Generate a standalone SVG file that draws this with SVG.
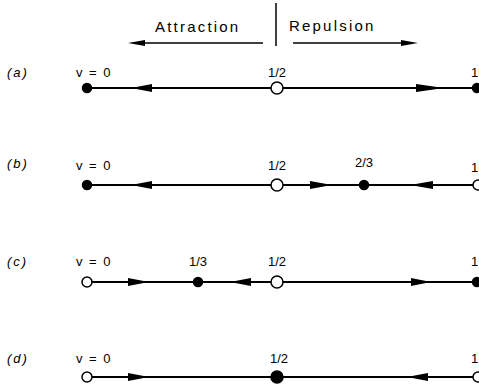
<svg xmlns="http://www.w3.org/2000/svg" width="479" height="384" viewBox="0 0 479 384">
<style>
text{font-family:"Liberation Sans","DejaVu Sans",sans-serif;font-size:13px;fill:#000}
.lab{font-style:italic;letter-spacing:2px}
.v0{letter-spacing:1.5px}
.hd{font-size:15px;letter-spacing:2.2px}
.ln{stroke:#000;stroke-width:2;fill:none}
.thin{stroke:#000;stroke-width:1.5;fill:none}
.fd{fill:#000;stroke:#000;stroke-width:1.5}
.op{fill:#fff;stroke:#000;stroke-width:1.5}
.ah{fill:#000}
</style>
<g id="header">
<line class="thin" x1="276" y1="3" x2="276" y2="46"/>
<text class="hd" x="155" y="32">Attraction</text>
<text class="hd" x="289" y="31">Repulsion</text>
<line class="thin" x1="263" y1="43" x2="140" y2="43"/>
<polygon class="ah" points="128,43 145,40 145,46"/>
<line class="thin" x1="293" y1="43" x2="407" y2="43"/>
<polygon class="ah" points="418,43 401,40 401,46"/>
</g>
<g id="connectors">
<line class="ln" x1="87" y1="88" x2="476" y2="88"/>
<polygon class="ah" points="131,88 152,84 152,92"/>
<polygon class="ah" points="444,88 416,84 416,92"/>
<line class="ln" x1="87" y1="185" x2="476" y2="185"/>
<polygon class="ah" points="131,185 152,181 152,189"/>
<polygon class="ah" points="332,185 310,181 310,189"/>
<polygon class="ah" points="410,185 433,181 433,189"/>
<line class="ln" x1="87" y1="282" x2="476" y2="282"/>
<polygon class="ah" points="149,282 128,278 128,286"/>
<polygon class="ah" points="230,282 251,278 251,286"/>
<polygon class="ah" points="431,282 411,278 411,286"/>
<line class="ln" x1="87" y1="377" x2="476" y2="377"/>
<polygon class="ah" points="149,377 128,373 128,381"/>
<polygon class="ah" points="407,377 428,373 428,381"/>
</g>
<g id="row-a">
<text class="lab" x="7" y="77">(a)</text>
<text class="v0" x="76" y="77">v = 0</text>
<text x="268" y="77">1/2</text>
<text x="471" y="77">1</text>
<circle class="fd" cx="87" cy="88" r="4.5"/>
<circle class="op" cx="277" cy="88" r="6"/>
<circle class="fd" cx="477" cy="88" r="4.5"/>
</g>
<g id="row-b">
<text class="lab" x="7" y="168">(b)</text>
<text class="v0" x="76" y="170">v = 0</text>
<text x="268" y="170">1/2</text>
<text x="355" y="167">2/3</text>
<text x="471" y="172">1</text>
<circle class="fd" cx="87" cy="185" r="4.5"/>
<circle class="op" cx="277" cy="185" r="6"/>
<circle class="fd" cx="364" cy="185" r="4.5"/>
<circle class="op" cx="478" cy="185" r="5"/>
</g>
<g id="row-c">
<text class="lab" x="7" y="266">(c)</text>
<text class="v0" x="76" y="266">v = 0</text>
<text x="189" y="266">1/3</text>
<text x="268" y="266">1/2</text>
<text x="471" y="266">1</text>
<circle class="op" cx="87" cy="282" r="5"/>
<circle class="fd" cx="198" cy="282" r="4.5"/>
<circle class="op" cx="277" cy="282" r="6"/>
<circle class="fd" cx="477" cy="282" r="4.5"/>
</g>
<g id="row-d">
<text class="lab" x="7" y="363">(d)</text>
<text class="v0" x="76" y="363">v = 0</text>
<text x="270" y="363">1/2</text>
<text x="471" y="363">1</text>
<circle class="op" cx="87" cy="377" r="5"/>
<circle class="fd" cx="277" cy="377" r="6"/>
<circle class="op" cx="478" cy="377" r="5"/>
</g>
</svg>
